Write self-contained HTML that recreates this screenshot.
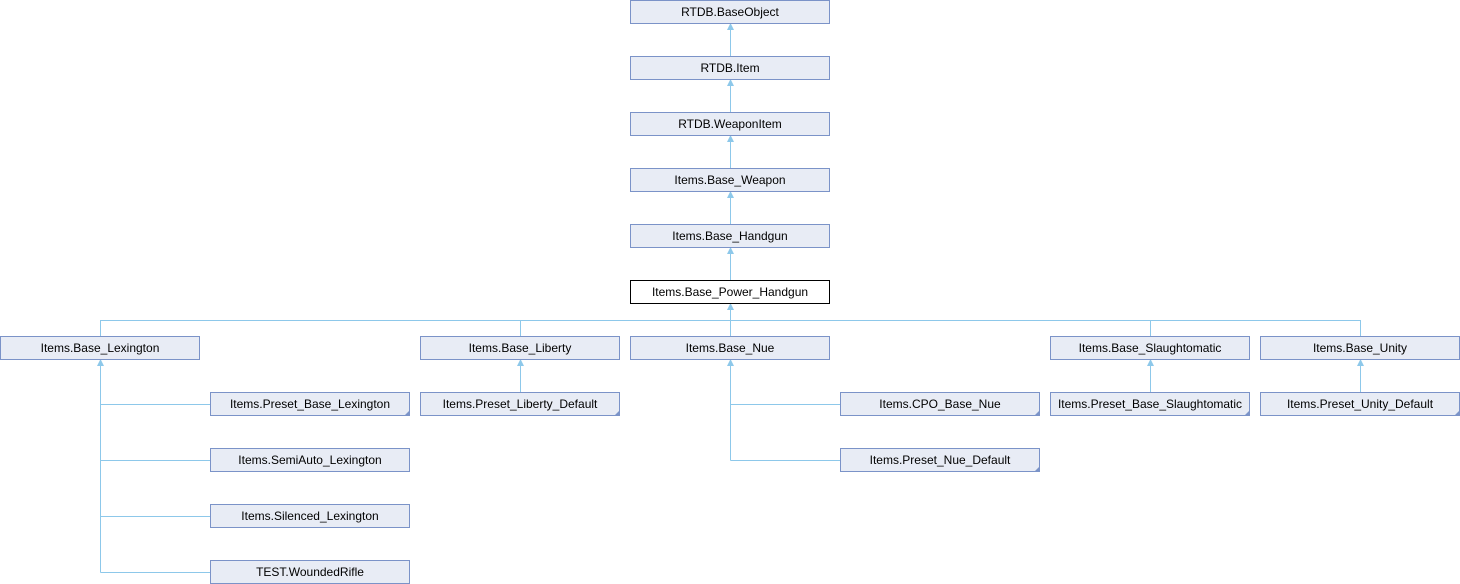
<!DOCTYPE html>
<html><head><meta charset="utf-8"><style>
html,body{margin:0;padding:0;background:#fff;width:1460px;height:584px;overflow:hidden}
text{font-family:"Liberation Sans",sans-serif;font-size:12px;fill:#000;text-anchor:middle}
.b{fill:#e8ecf5;stroke:#7b93c8;stroke-width:1}
.k{fill:#fff;stroke:#000;stroke-width:1}
.l{stroke:#8dc8ea;stroke-width:1;fill:none}
.a{fill:#8dc8ea}
.f{fill:#7b93c8}
</style></head><body>
<svg width="1460" height="584" xmlns="http://www.w3.org/2000/svg">
<g class="l">
<path d="M730.5 23V56 M730.5 79V112 M730.5 135V168 M730.5 191V224 M730.5 247V280"/>
<path d="M730.5 303V336 M100.5 320.5H1360.5 M100.5 320V336 M520.5 320V336 M1150.5 320V336 M1360.5 320V336"/>
<path d="M100.5 359V572.5 M100.5 404.5H210 M100.5 460.5H210 M100.5 516.5H210 M100.5 572.5H210"/>
<path d="M520.5 359V392 M1150.5 359V392 M1360.5 359V392"/>
<path d="M730.5 359V460.5 M730.5 404.5H840 M730.5 460.5H840"/>
</g>
<g class="a">
<path d="M727 30L730.5 23L734 30Z"/><path d="M727 86L730.5 79L734 86Z"/><path d="M727 142L730.5 135L734 142Z"/>
<path d="M727 198L730.5 191L734 198Z"/><path d="M727 254L730.5 247L734 254Z"/><path d="M727 310L730.5 303L734 310Z"/>
<path d="M97 366L100.5 359L104 366Z"/><path d="M517 366L520.5 359L524 366Z"/><path d="M727 366L730.5 359L734 366Z"/>
<path d="M1147 366L1150.5 359L1154 366Z"/><path d="M1357 366L1360.5 359L1364 366Z"/>
</g>
<g>
<rect class="b" x="630.5" y="0.5" width="199" height="23"/><text x="730" y="16">RTDB.BaseObject</text>
<rect class="b" x="630.5" y="56.5" width="199" height="23"/><text x="730" y="72">RTDB.Item</text>
<rect class="b" x="630.5" y="112.5" width="199" height="23"/><text x="730" y="128">RTDB.WeaponItem</text>
<rect class="b" x="630.5" y="168.5" width="199" height="23"/><text x="730" y="184">Items.Base_Weapon</text>
<rect class="b" x="630.5" y="224.5" width="199" height="23"/><text x="730" y="240">Items.Base_Handgun</text>
<rect class="k" x="630.5" y="280.5" width="199" height="23"/><text x="730" y="296">Items.Base_Power_Handgun</text>
<rect class="b" x="0.5" y="336.5" width="199" height="23"/><text x="100" y="352">Items.Base_Lexington</text>
<rect class="b" x="420.5" y="336.5" width="199" height="23"/><text x="520" y="352">Items.Base_Liberty</text>
<rect class="b" x="630.5" y="336.5" width="199" height="23"/><text x="730" y="352">Items.Base_Nue</text>
<rect class="b" x="1050.5" y="336.5" width="199" height="23"/><text x="1150" y="352">Items.Base_Slaughtomatic</text>
<rect class="b" x="1260.5" y="336.5" width="199" height="23"/><text x="1360" y="352">Items.Base_Unity</text>
<rect class="b" x="210.5" y="392.5" width="199" height="23"/><text x="310" y="408">Items.Preset_Base_Lexington</text><path class="f" d="M410 410V416H404Z"/>
<rect class="b" x="210.5" y="448.5" width="199" height="23"/><text x="310" y="464">Items.SemiAuto_Lexington</text>
<rect class="b" x="210.5" y="504.5" width="199" height="23"/><text x="310" y="520">Items.Silenced_Lexington</text>
<rect class="b" x="210.5" y="560.5" width="199" height="23"/><text x="310" y="576">TEST.WoundedRifle</text>
<rect class="b" x="420.5" y="392.5" width="199" height="23"/><text x="520" y="408">Items.Preset_Liberty_Default</text><path class="f" d="M620 410V416H614Z"/>
<rect class="b" x="840.5" y="392.5" width="199" height="23"/><text x="940" y="408">Items.CPO_Base_Nue</text><path class="f" d="M1040 410V416H1034Z"/>
<rect class="b" x="840.5" y="448.5" width="199" height="23"/><text x="940" y="464">Items.Preset_Nue_Default</text><path class="f" d="M1040 466V472H1034Z"/>
<rect class="b" x="1050.5" y="392.5" width="199" height="23"/><text x="1150" y="408">Items.Preset_Base_Slaughtomatic</text><path class="f" d="M1250 410V416H1244Z"/>
<rect class="b" x="1260.5" y="392.5" width="199" height="23"/><text x="1360" y="408">Items.Preset_Unity_Default</text><path class="f" d="M1460 410V416H1454Z"/>
</g>
</svg>
</body></html>
